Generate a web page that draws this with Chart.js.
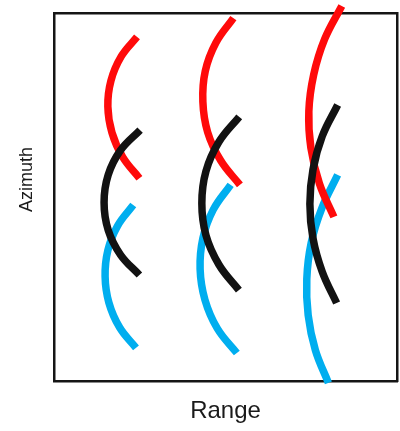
<!DOCTYPE html>
<html>
<head>
<meta charset="utf-8">
<title>Range / Azimuth</title>
<script src="https://cdn.jsdelivr.net/npm/chart.js"></script>
<style>
  body { margin: 0; background: #ffffff; }
  canvas { display: block; }
</style>
</head>
<body>
<canvas id="arcChart" width="400" height="431"></canvas>
<script>
"use strict";

// bågarnas värden, tre kolumner per färg (range 0-100, azimuth 0-100)
const redRange = [
    [24.2, 19.6, 16.6, 15.7, 16.9, 20.0, 24.9],
    [52.3, 47.2, 44.1, 43.4, 44.8, 48.6, 54.2],
    [83.9, 78.9, 75.7, 74.3, 74.9, 77.4, 81.6]
];
const redAzimuth = [
    [93.5, 88.2, 81.6, 74.6, 67.5, 60.9, 55.1],
    [98.6, 91.9, 84.2, 75.9, 67.6, 59.9, 53.3],
    [101.9, 92.9, 83.2, 73.3, 63.3, 53.6, 44.6]
];

const blackRange = [
    [25.1, 19.4, 15.8, 14.6, 15.8, 19.4, 24.9],
    [54.0, 48.1, 44.3, 43.1, 44.3, 48.1, 53.9],
    [82.7, 78.2, 75.5, 74.6, 75.5, 78.2, 82.4]
];
const blackAzimuth = [
    [68.2, 62.7, 56.0, 48.5, 41.0, 34.3, 28.8],
    [71.8, 65.0, 57.0, 48.3, 39.6, 31.6, 24.7],
    [75.0, 66.5, 57.4, 48.1, 38.8, 29.7, 21.2]
];

const blueRange = [
    [23.1, 18.5, 15.7, 14.9, 16.0, 19.1, 23.9],
    [51.5, 46.4, 43.4, 42.6, 44.0, 47.6, 53.3],
    [82.7, 78.1, 75.0, 73.7, 74.1, 76.2, 80.0]
];
const blueAzimuth = [
    [47.8, 42.1, 35.5, 28.4, 21.3, 14.6, 9.0],
    [53.3, 46.5, 38.8, 30.4, 22.1, 14.3, 7.6],
    [56.0, 47.0, 37.6, 27.7, 17.9, 8.4, -0.5]
];

const chartEl = document.getElementById("arcChart");

// gör om två arrayer till punkter
function toPoints(xs, ys) {
    let pts = [];
    for (let i = 0; i < xs.length; i++) {
        pts.push({ x: xs[i], y: ys[i] });
    }
    return pts;
}

function makeSets(rangeArr, azArr, color) {
    return rangeArr.map((r, i) => ({
        data: toPoints(r, azArr[i]),
        showLine: true,
        borderColor: color,
        borderWidth: 7.5,
        borderCapStyle: "butt",
        tension: 0.4,
        pointRadius: 0,
        clip: false
    }));
}

let datasets = [].concat(
    makeSets(blackRange, blackAzimuth, "#121212"),
    makeSets(redRange, redAzimuth, "#ff0a0a"),
    makeSets(blueRange, blueAzimuth, "#00aeef")
);

const frame = { color: "#151515", width: 2.5 };
const noTicks = { display: false };
const noGrid = { display: false, drawTicks: false };
const labelFont = "'Liberation Sans', Arial, sans-serif";

new Chart(chartEl, {
    type: "scatter",
    data: { datasets: datasets },
    options: {
        responsive: false,
        animation: false,
        layout: { padding: { left: 9.8, right: 3, top: 13, bottom: 0 } },
        plugins: {
            legend: { display: false },
            tooltip: { enabled: false }
        },
        scales: {
            x: {
                type: "linear", position: "bottom", min: 0, max: 100,
                ticks: noTicks, grid: noGrid, border: frame,
                title: {
                    display: true, text: "Range", color: "#1a1a1a",
                    font: { family: labelFont, size: 24 },
                    padding: { top: 15.6, bottom: 5.6 }
                }
            },
            y: {
                type: "linear", position: "left", min: 0, max: 100,
                ticks: noTicks, grid: noGrid, border: frame,
                title: {
                    // inledande mellanslag flyttar texten uppåt som i förlagan
                    display: true, text: "       Azimuth", color: "#1a1a1a",
                    font: { family: labelFont, size: 18 },
                    padding: { top: 6.4, bottom: 16.2 }
                }
            },
            xTop: {
                type: "linear", axis: "x", position: "top", min: 0, max: 100,
                ticks: noTicks, grid: noGrid, border: frame
            },
            yRight: {
                type: "linear", axis: "y", position: "right", min: 0, max: 100,
                ticks: noTicks, grid: noGrid, border: frame
            }
        }
    }
});
</script>
</body>
</html>
